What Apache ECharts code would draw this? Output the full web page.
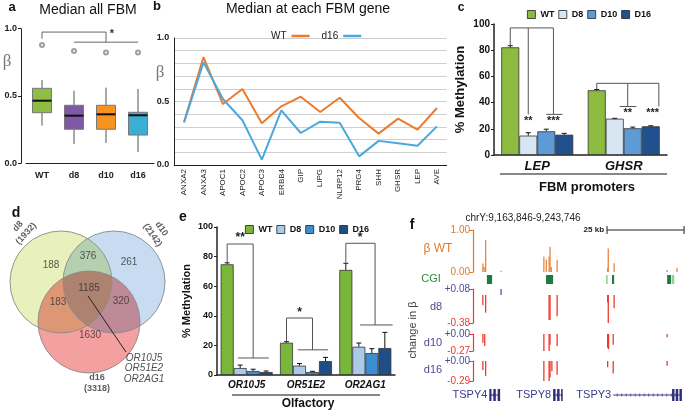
<!DOCTYPE html>
<html><head><meta charset="utf-8">
<script src="https://cdn.jsdelivr.net/npm/echarts@6/dist/echarts.min.js"></script>
<style>html,body{margin:0;padding:0;background:#fff;}#c{width:685px;height:411px;}</style>
</head><body><div id="c"></div>
<script>
// ================= DATA =================
// Panel a: median beta over all FBM genes (box plot)
const aGroups = ['WT','d8','d10','d16'];
const aMin = [0.28, 0.143, 0.151, 0.084];
const aQ1  = [0.376, 0.253, 0.253, 0.21];
const aMed = [0.465, 0.354, 0.364, 0.357];
const aQ3  = [0.557, 0.431, 0.431, 0.379];
const aMax = [0.619, 0.539, 0.562, 0.552];
const aOut = [0.879, 0.834, 0.824, 0.824];

// Panel b: median at each FBM gene
const bGenes = ['ANXA2','ANXA3','APOC1','APOC2','APOC3','ERBB4','GIP','LIPG','NLRP12','PRG4','SHH','GHSR','LEP','AVE'];
const bWT  = [0.336,0.85,0.48,0.598,0.328,0.462,0.538,0.417,0.53,0.37,0.247,0.365,0.278,0.449];
const bD16 = [0.336,0.808,0.52,0.352,0.042,0.43,0.252,0.341,0.333,0.068,0.19,0.171,0.152,0.304];

// Panel c: % methylation at FBM promoters
const cGenes = ['LEP','GHSR'];
const cWT  = [82.2, 49.4];
const cD8  = [14.8, 27.7];
const cD10 = [18.1, 20.4];
const cD16 = [15.5, 21.9];
const cWTerr  = [1.2, 0.6];
const cD8err  = [2.2, 0.3];
const cD10err = [1.6, 0.9];
const cD16err = [1.0, 0.4];

// Panel d: Venn counts
const vennSets = ['d8','d10','d16'];
const vennTotals = [1932, 2142, 3318];
const vennRegionCounts = [188, 376, 261, 1185, 183, 320, 1630];
const vennGenes = ['OR10J5','OR51E2','OR2AG1'];

// Panel e: % methylation, olfactory genes
const eGenes = ['OR10J5','OR51E2','OR2AG1'];
const eWT  = [74.8, 21.8, 71.0];
const eD8  = [4.7, 6.3, 19.1];
const eD10 = [2.7, 2.0, 14.8];
const eD16 = [2.0, 9.4, 18.2];
const eWTerr  = [1.0, 0.7, 4.5];
const eD8err  = [2.0, 1.5, 2.5];
const eD10err = [1.2, 0.5, 3.0];
const eD16err = [0.7, 2.5, 10.6];

// Panel f: genome track (positions in kb from window start)
const fWT  = [[3.2,0.2],[3.6,0.12],[4.1,0.76],[9.1,0.03],[23.0,0.37],[23.8,0.3],[24.7,0.37],[25.0,0.6],[25.4,0.12],[27.3,0.29],[43.7,0.1],[43.9,0.56],[45.8,0.21],[63.0,0.05],[66.2,0.1]];
const fCGI = [[4.5,6.2,0],[23.7,26.0,0],[43.2,43.7,1],[45.1,45.8,0],[63.0,64.3,0],[64.6,65.3,1]];
const fD8  = [[3.2,-0.14],[4.1,-0.24],[9.1,0.08],[24.7,-0.34],[25.0,-0.34],[27.3,-0.29],[43.7,-0.1],[43.9,-0.38],[45.8,-0.18]];
const fD10 = [[3.2,-0.14],[3.8,-0.19],[23.0,-0.27],[24.7,-0.27],[25.0,-0.17],[27.3,-0.19],[43.7,-0.22],[44.0,-0.24],[45.5,-0.17],[63.0,-0.05]];
const fD16 = [[3.2,-0.13],[4.1,-0.22],[23.0,-0.29],[24.7,-0.29],[25.0,-0.24],[25.6,-0.15],[27.3,-0.2],[43.7,-0.09],[45.5,-0.18],[63.0,-0.07]];
const fGeneNames = ['TSPY4','TSPY8','TSPY3'];
const fGeneStart = [5.3, 26.0, 45.5];
const fGeneEnd   = [8.8, 29.1, 67.8];
const fExons = [[5.3,6.0],[6.6,7.4],[8.0,8.8],[26.0,26.8],[27.3,28.1],[28.6,29.1],[64.6,65.4],[65.8,66.6],[67.0,67.8]];
const fScaleKb = [43.5, 68.5];

// ================= STYLE =================
const F = "'Liberation Sans', Arial, Helvetica, sans-serif";
const colA = ['#8fbc45','#7e5aa6','#f7931e','#3aaed3'];
const colBWT = '#ec7a2f', colBD16 = '#4aa9dc';
const colC = ['#8cbb40','#d8e6f4','#5d9bd6','#21508f'];
const colE = ['#79b63a','#a9cbe8','#3b8ed2','#1f4d85'];
const colOr = '#e07b2e', colRed = '#ee3a2c', colBlueLab = '#4a4a9a';
const vennRGB = [[232,240,187],[199,220,241],[244,160,160]];
// venn layout (grid coordinates)
const vennCenters = [[61,82],[114,82],[89,122]];
const vennRadius = 51;
const vennRegionPos = [[51,65],[88,56],[129,62],[89,88],[58,102],[121,101],[90,135]];

const chart = echarts.init(document.getElementById('c'), null, {renderer:'canvas'});

function bracketRenderer(brackets, stars, bw, fs) {
  return function(params, api) {
    const px = (cat, slot, val) => { const p = api.coord([cat, val]); return [p[0] + (slot-1.5)*bw, p[1]]; };
    const ch = [];
    brackets.forEach(b => ch.push({type:'polyline', shape:{points:b.map(q=>px(q[0],q[1],q[2]))}, style:{stroke:'#555', lineWidth:1, fill:null}}));
    stars.forEach(s => { const p = px(s[0], s[1], s[3]); ch.push({type:'text', x:p[0], y:p[1], style:{text:s[2], align:'center', verticalAlign:'middle', fontSize:fs, fontWeight:'bold', fill:'#222', fontFamily:F}}); });
    return {type:'group', children:ch};
  };
}
function errRenderer(bw, cap) {
  return function(params, api) {
    const cat = api.value(0), val = api.value(1), err = api.value(2), s = api.value(3);
    const p0 = api.coord([cat, val]), p1 = api.coord([cat, val+err]);
    const x = p0[0] + (s-1.5)*bw;
    return {type:'group', children:[
      {type:'line', shape:{x1:x,y1:p0[1],x2:x,y2:p1[1]}, style:{stroke:'#111', lineWidth:1}},
      {type:'line', shape:{x1:x-cap,y1:p1[1],x2:x+cap,y2:p1[1]}, style:{stroke:'#111', lineWidth:1}}
    ]};
  };
}
function errData(vals, errs) {
  const out = [];
  vals.forEach((arr, s) => arr.forEach((v, j) => out.push([j, v, errs[s][j], s])));
  return out;
}
function stick(color, w, posColor) {
  return function(params, api) {
    const x = api.value(0), v = api.value(1);
    const p0 = api.coord([x, 0]), p1 = api.coord([x, v]);
    return {type:'rect', shape:{x:p0[0]-w/2, y:Math.min(p0[1],p1[1]), width:w, height:Math.max(1,Math.abs(p1[1]-p0[1]))},
      style:{fill: (v > 0 && posColor) ? posColor : color}};
  };
}
// Venn: fill each region with the multiplied colour of its member sets, row by row
function vennRenderer(params, api) {
  const circ = vennCenters.map(c => { const p = api.coord(c); return [p[0], p[1]]; });
  const r = api.size([vennRadius, 0])[0];
  const top = Math.min(...circ.map(c=>c[1])) - r, bot = Math.max(...circ.map(c=>c[1])) + r;
  const ch = [];
  for (let y = Math.floor(top); y < bot; y += 1) {
    const yc = y + 0.5, brk = [];
    circ.forEach(c => { const dy = yc - c[1]; if (Math.abs(dy) < r) { const h = Math.sqrt(r*r - dy*dy); brk.push(c[0]-h, c[0]+h); } });
    if (!brk.length) continue;
    brk.sort((a,b)=>a-b);
    for (let k = 0; k < brk.length-1; k++) {
      const x0 = brk[k], x1 = brk[k+1]; if (x1 - x0 < 0.01) continue;
      const xm = (x0+x1)/2; let col = [255,255,255], any = false;
      circ.forEach((c,i) => { if ((xm-c[0])**2 + (yc-c[1])**2 < r*r) { any = true; col = col.map((v,j)=>v*vennRGB[i][j]/255); } });
      if (!any) continue;
      ch.push({type:'rect', shape:{x:x0, y:y, width:x1-x0, height:1.05}, style:{fill:'rgb('+col.map(Math.round).join(',')+')'}});
    }
  }
  circ.forEach(c => ch.push({type:'circle', shape:{cx:c[0], cy:c[1], r:r}, style:{fill:null, stroke:'#8a8a8a', lineWidth:0.9}}));
  return {type:'group', children:ch};
}

// brackets: [cat, slot, value]
const cBrackets = [
  [[0,0,83.5],[0,0,97],[0,2.4,97],[0,2.4,31]],
  [[0,1,97],[0,1,31]],
  [[0,2,31],[0,2.9,31]],
  [[1,0,50],[1,0,54.7],[1,3.45,54.7],[1,3.45,37]],
  [[1,1.72,54.7],[1,1.72,37]],
  [[1,1.28,37],[1,2.2,37]]
];
const cStars = [[0,1,'**',26],[0,2.4,'***',26],[1,1.72,'**',32],[1,3.1,'***',32]];
const eBrackets = [
  [[0,0,76],[0,0,88.5],[0,2,88.5],[0,2,11.5]],
  [[0,0.83,11.5],[0,3.2,11.5]],
  [[1,0,23],[1,0,38.5],[1,2,38.5],[1,2,17]],
  [[1,0.88,17],[1,3.2,17]],
  [[2,0,76],[2,0,89],[2,2.25,89],[2,2.25,33.8]],
  [[2,1.1,33.8],[2,3.6,33.8]]
];
const eStars = [[0,1.0,'**',93],[1,1.0,'*',42],[2,1.1,'*',93]];

const fX = (i) => ({gridIndex:i, type:'value', min:0, max:68.8, show:false});
const fYHidden = (i) => ({gridIndex:i, type:'value', min:0, max:1, show:false});
const signFmt = v => (v >= -1e-9 ? '+' : '-') + Math.abs(v).toFixed(2);
const signCol = v => (v >= -1e-9 ? colBlueLab : colRed);
const fTrackY = (i, mn, mx) => ({gridIndex:i, type:'value', min:mn, max:mx, interval:+(mx-mn).toFixed(2),
  axisLine:{show:true, lineStyle:{color:colRed, width:1.2}}, axisTick:{show:true, length:4, lineStyle:{color:colRed}},
  axisLabel:{formatter:signFmt, color:signCol, fontSize:10, margin:3, fontFamily:F}, splitLine:{show:false}});

const legendBar = (left, top, cols) => ({
  left, top, itemWidth:8, itemHeight:8, itemGap:4, icon:'rect', selectedMode:false,
  textStyle:{fontSize:9, fontWeight:'bold', color:'#111', fontFamily:F},
  data:['WT','D8','D10','D16'].map((n,i)=>({name:n, itemStyle:{color:cols[i], borderColor:'#222', borderWidth:0.8}}))
});

const barSeries = (names, vals, cols, xi, yi, bw) => names.map((n,i)=>({
  name:n, type:'bar', xAxisIndex:xi, yAxisIndex:yi, data:vals[i], barWidth:bw, barGap:'0%',
  itemStyle:{color:cols[i], borderColor:'#333', borderWidth:0.8}, silent:true
}));

const option = {
  animation:false,
  textStyle:{fontFamily:F},
  grid:[
    {left:26, top:28.7, width:128, height:134.6},
    {left:174.3, top:38, width:272.4, height:127},
    {left:494, top:24, width:173, height:131},
    {left:0, top:200, width:190, height:200},
    {left:217, top:227, width:178, height:148},
    {left:473, top:230, width:212, height:42},
    {left:473, top:275, width:212, height:9},
    {left:473, top:289, width:212, height:34},
    {left:473, top:334, width:212, height:17},
    {left:473, top:361, width:212, height:20},
    {left:473, top:389, width:212, height:12},
    {left:473, top:225, width:212, height:10}
  ],
  xAxis:[
    {gridIndex:0, type:'category', data:aGroups, axisLine:{lineStyle:{color:'#222'}}, axisTick:{show:false},
      axisLabel:{fontWeight:'bold', fontSize:9, color:'#222', margin:8}},
    {gridIndex:1, type:'category', data:bGenes, axisLine:{lineStyle:{color:'#222'}}, axisTick:{show:false},
      axisLabel:{rotate:90, fontSize:8, color:'#222', interval:0, margin:4}},
    {gridIndex:2, type:'category', data:cGenes, axisLine:{lineStyle:{color:'#222', width:1.5}}, axisTick:{show:false},
      axisLabel:{fontStyle:'italic', fontWeight:'bold', fontSize:13, color:'#111', margin:5}},
    {gridIndex:3, type:'value', min:0, max:190, show:false},
    {gridIndex:4, type:'category', data:eGenes, axisLine:{lineStyle:{color:'#222', width:1.5}}, axisTick:{show:false},
      axisLabel:{fontStyle:'italic', fontWeight:'bold', fontSize:10, color:'#111', margin:5}},
    fX(5), fX(6), fX(7), fX(8), fX(9), fX(10), fX(11)
  ],
  yAxis:[
    {gridIndex:0, type:'value', min:0, max:1, interval:0.5, offset:5, axisLine:{show:true, lineStyle:{color:'#222'}},
      axisTick:{show:true, length:3}, axisLabel:{formatter:v=>v.toFixed(1), fontWeight:'bold', fontSize:9, color:'#222', margin:4}, splitLine:{show:false}},
    {gridIndex:1, type:'value', min:0, max:1, interval:0.1, axisLine:{show:true, lineStyle:{color:'#222'}}, axisTick:{show:false},
      axisLabel:{formatter:v=>(Math.abs(v*2-Math.round(v*2))<1e-6 ? v.toFixed(1) : ''), fontWeight:'bold', fontSize:9, color:'#222', margin:5},
      splitLine:{show:true, lineStyle:{color:'#cfcfcf', width:1}}},
    {gridIndex:2, type:'value', min:0, max:100, interval:20, name:'% Methylation', nameLocation:'middle', nameGap:27,
      nameTextStyle:{fontWeight:'bold', fontSize:13, color:'#111'},
      axisLine:{show:true, lineStyle:{color:'#222', width:1.5}}, axisTick:{show:true, length:3},
      axisLabel:{fontWeight:'bold', fontSize:10, color:'#111', margin:4}, splitLine:{show:false}},
    {gridIndex:3, type:'value', min:0, max:200, inverse:true, show:false},
    {gridIndex:4, type:'value', min:0, max:100, interval:20, name:'% Methylation', nameLocation:'middle', nameGap:25,
      nameTextStyle:{fontWeight:'bold', fontSize:11, color:'#111'},
      axisLine:{show:true, lineStyle:{color:'#222', width:1.5}}, axisTick:{show:true, length:3},
      axisLabel:{fontWeight:'bold', fontSize:9, color:'#111', margin:4}, splitLine:{show:false}},
    {gridIndex:5, type:'value', min:0, max:1, interval:1, axisLine:{show:true, lineStyle:{color:colOr, width:1.2}},
      axisTick:{show:true, length:4, lineStyle:{color:colOr}}, axisLabel:{formatter:v=>v.toFixed(2), color:colOr, fontSize:10, margin:3}, splitLine:{show:false}},
    fYHidden(6),
    fTrackY(7, -0.38, 0.08),
    fTrackY(8, -0.27, 0),
    fTrackY(9, -0.29, 0),
    fYHidden(10), fYHidden(11)
  ],
  legend:[
    {left:266, top:26, align:'right', itemWidth:18, itemHeight:2.5, itemGap:12, icon:'rect', selectedMode:false,
      textStyle:{fontSize:10, color:'#222', fontFamily:F},
      data:[{name:'WT', itemStyle:{color:colBWT}}, {name:'d16', itemStyle:{color:colBD16}}]},
    legendBar(522, 5, colC),
    legendBar(240, 220, colE)
  ],
  series:[
    // ---- a ----
    {type:'custom', xAxisIndex:0, yAxisIndex:0, silent:true,
      data: aGroups.map((g,i)=>[i, aMin[i], aQ1[i], aMed[i], aQ3[i], aMax[i]]),
      encode:{x:0, y:[1,2,3,4,5]},
      renderItem:(params, api) => {
        const i = api.value(0);
        const c = (v) => api.coord([i, v]);
        const x = c(0)[0], w = 19;
        const yMin = c(api.value(1))[1], yQ1 = c(api.value(2))[1], yMed = c(api.value(3))[1], yQ3 = c(api.value(4))[1], yMax = c(api.value(5))[1];
        return {type:'group', children:[
          {type:'line', shape:{x1:x,y1:yQ1,x2:x,y2:yMin}, style:{stroke:'#555', lineWidth:1}},
          {type:'line', shape:{x1:x,y1:yQ3,x2:x,y2:yMax}, style:{stroke:'#555', lineWidth:1}},
          {type:'rect', shape:{x:x-w/2, y:yQ3, width:w, height:yQ1-yQ3}, style:{fill:colA[params.dataIndex], stroke:'#777', lineWidth:1}},
          {type:'line', shape:{x1:x-w/2,y1:yMed,x2:x+w/2,y2:yMed}, style:{stroke:'#111', lineWidth:2}}
        ]};
      }},
    {type:'scatter', xAxisIndex:0, yAxisIndex:0, silent:true, symbol:'emptyCircle', symbolSize:4,
      itemStyle:{color:'#888', borderColor:'#888', borderWidth:1}, data:aGroups.map((g,i)=>[g, aOut[i]])},
    {type:'line', xAxisIndex:0, yAxisIndex:0, silent:true, symbol:'none', lineStyle:{color:'#666', width:1},
      data:[['WT',0.925],['WT',0.975],['d10',0.975],['d10',0.9]]},
    {type:'line', xAxisIndex:0, yAxisIndex:0, silent:true, symbol:'none', lineStyle:{color:'#666', width:1},
      data:[['d8',0.9],['d16',0.9]],
      markPoint:{silent:true, symbolSize:0, data:[{coord:['d10',0.975], label:{show:true, formatter:'*', offset:[6,2], fontSize:11, fontWeight:'bold', color:'#333'}}]}},
    // ---- b ----
    {name:'WT', type:'line', xAxisIndex:1, yAxisIndex:1, data:bWT, symbol:'none', silent:true, lineStyle:{color:colBWT, width:2}, itemStyle:{color:colBWT}},
    {name:'d16', type:'line', xAxisIndex:1, yAxisIndex:1, data:bD16, symbol:'none', silent:true, lineStyle:{color:colBD16, width:2}, itemStyle:{color:colBD16}},
    // ---- c ----
    ...barSeries(['WT','D8','D10','D16'], [cWT,cD8,cD10,cD16], colC, 2, 2, 18),
    {type:'custom', xAxisIndex:2, yAxisIndex:2, silent:true, z:5, encode:{x:0,y:1},
      data:errData([cWT,cD8,cD10,cD16],[cWTerr,cD8err,cD10err,cD16err]), renderItem:errRenderer(18, 2.5)},
    {type:'custom', xAxisIndex:2, yAxisIndex:2, silent:true, z:6, encode:{x:0,y:1}, data:[[0,0]],
      renderItem:bracketRenderer(cBrackets, cStars, 18, 11)},
    // ---- d (Venn) ----
    {type:'custom', xAxisIndex:3, yAxisIndex:3, silent:true, encode:{x:0,y:1},
      data:[vennCenters[0]], renderItem:vennRenderer},
    {type:'scatter', xAxisIndex:3, yAxisIndex:3, silent:true, symbolSize:0, z:4,
      label:{show:true, position:'inside', formatter:p=>p.name, fontSize:10, color:'#333'},
      data: vennRegionCounts.map((n,i)=>({name:String(n), value:vennRegionPos[i]}))},
    {type:'line', xAxisIndex:3, yAxisIndex:3, silent:true, symbol:'none', z:5, lineStyle:{color:'#222', width:1},
      data:[[88,96],[126,152]]},
    {type:'scatter', xAxisIndex:3, yAxisIndex:3, silent:true, symbolSize:0, z:4,
      label:{show:true, position:'inside', formatter:p=>p.name, fontSize:10, fontStyle:'italic', color:'#222'},
      data: vennGenes.map((g,i)=>({name:g, value:[144, 158 + i*10.5]}))},
    {type:'scatter', xAxisIndex:3, yAxisIndex:3, silent:true, symbolSize:0, z:4,
      data:[
        {name:vennSets[0]+'\n('+vennTotals[0]+')', value:[22,30], label:{rotate:48}},
        {name:vennSets[1]+'\n('+vennTotals[1]+')', value:[157,32], label:{rotate:-55}},
        {name:vennSets[2]+'\n('+vennTotals[2]+')', value:[97,183], label:{rotate:0}}
      ],
      label:{show:true, position:'inside', formatter:p=>p.name, fontSize:9, fontWeight:'bold', color:'#333', lineHeight:11}},
    // ---- e ----
    ...barSeries(['WT','D8','D10','D16'], [eWT,eD8,eD10,eD16], colE, 4, 4, 13),
    {type:'custom', xAxisIndex:4, yAxisIndex:4, silent:true, z:5, encode:{x:0,y:1},
      data:errData([eWT,eD8,eD10,eD16],[eWTerr,eD8err,eD10err,eD16err]), renderItem:errRenderer(13, 2.5)},
    {type:'custom', xAxisIndex:4, yAxisIndex:4, silent:true, z:6, encode:{x:0,y:1}, data:[[0,0]],
      renderItem:bracketRenderer(eBrackets, eStars, 13, 12)},
    // ---- f ----
    {type:'custom', xAxisIndex:5, yAxisIndex:5, silent:true, encode:{x:0,y:1}, data:fWT, renderItem:stick('#e8873f', 1.3)},
    {type:'custom', xAxisIndex:6, yAxisIndex:6, silent:true, encode:{x:[0,1]}, data:fCGI,
      renderItem:(params, api) => {
        const p0 = api.coord([api.value(0), 1]), p1 = api.coord([api.value(1), 0]);
        return {type:'rect', shape:{x:p0[0], y:p0[1], width:Math.max(1.5,p1[0]-p0[0]), height:p1[1]-p0[1]},
          style:{fill: api.value(2) ? '#8fd08f' : '#1f7a3f'}};
      }},
    {type:'custom', xAxisIndex:7, yAxisIndex:7, silent:true, encode:{x:0,y:1}, data:fD8, renderItem:stick(colRed, 1.3, '#4a5aa8')},
    {type:'custom', xAxisIndex:8, yAxisIndex:8, silent:true, encode:{x:0,y:1}, data:fD10, renderItem:stick(colRed, 1.3)},
    {type:'custom', xAxisIndex:9, yAxisIndex:9, silent:true, encode:{x:0,y:1}, data:fD16, renderItem:stick(colRed, 1.3)},
    {type:'custom', xAxisIndex:10, yAxisIndex:10, silent:true, encode:{x:[0,1]},
      data: fGeneNames.map((g,i)=>[fGeneStart[i], fGeneEnd[i], i]),
      renderItem:(params, api) => {
        const a = api.coord([api.value(0), 0.5]), b = api.coord([api.value(1), 0.5]);
        const ch = [{type:'line', shape:{x1:a[0],y1:a[1],x2:b[0],y2:b[1]}, style:{stroke:'#3b3b8f', lineWidth:1}}];
        for (let x = a[0]+4; x < b[0]-4; x += 4.5) ch.push({type:'line', shape:{x1:x,y1:a[1]-1.5,x2:x,y2:a[1]+1.5}, style:{stroke:'#3b3b8f', lineWidth:0.8}});
        ch.push({type:'text', x:a[0]-2, y:a[1], style:{text:fGeneNames[api.value(2)], align:'right', verticalAlign:'middle', fontSize:11, fill:'#3b3b8f', fontFamily:F}});
        return {type:'group', children:ch};
      }},
    {type:'custom', xAxisIndex:10, yAxisIndex:10, silent:true, encode:{x:[0,1]}, data:fExons,
      renderItem:(params, api) => {
        const a = api.coord([api.value(0), 1]), b = api.coord([api.value(1), 0]);
        return {type:'rect', shape:{x:a[0], y:a[1], width:Math.max(1.5,b[0]-a[0]), height:b[1]-a[1]}, style:{fill:'#2e2e78'}};
      }},
    {type:'custom', xAxisIndex:11, yAxisIndex:11, silent:true, encode:{x:[0,1]}, data:[fScaleKb],
      renderItem:(params, api) => {
        const a = api.coord([api.value(0), 0.5]), b = api.coord([api.value(1), 0.5]);
        return {type:'group', children:[
          {type:'line', shape:{x1:a[0],y1:a[1],x2:b[0],y2:b[1]}, style:{stroke:'#222', lineWidth:1}},
          {type:'line', shape:{x1:a[0],y1:a[1]-4,x2:a[0],y2:a[1]+4}, style:{stroke:'#222', lineWidth:1}},
          {type:'line', shape:{x1:b[0],y1:b[1]-4,x2:b[0],y2:b[1]+4}, style:{stroke:'#222', lineWidth:1}},
          {type:'text', x:a[0]-3, y:a[1], style:{text:'25 kb', align:'right', verticalAlign:'middle', fontSize:8, fontWeight:'bold', fill:'#222', fontFamily:F}}
        ]};
      }}
  ],
  graphic:{elements:[
    {type:'text', x:12, y:7, style:{text:'a', fontSize:13, fontWeight:'bold', fill:'#111', fontFamily:F, align:'center', verticalAlign:'middle'}},
    {type:'text', x:157, y:6, style:{text:'b', fontSize:13, fontWeight:'bold', fill:'#111', fontFamily:F, align:'center', verticalAlign:'middle'}},
    {type:'text', x:461, y:8, style:{text:'c', fontSize:12, fontWeight:'bold', fill:'#111', fontFamily:F, align:'center', verticalAlign:'middle'}},
    {type:'text', x:16, y:213, style:{text:'d', fontSize:14, fontWeight:'bold', fill:'#111', fontFamily:F, align:'center', verticalAlign:'middle'}},
    {type:'text', x:183, y:217, style:{text:'e', fontSize:14, fontWeight:'bold', fill:'#111', fontFamily:F, align:'center', verticalAlign:'middle'}},
    {type:'text', x:412, y:225, style:{text:'f', fontSize:14, fontWeight:'bold', fill:'#111', fontFamily:F, align:'center', verticalAlign:'middle'}},
    {type:'text', x:88, y:10, style:{text:'Median all FBM', fontSize:14, fill:'#111', fontFamily:F, align:'center', verticalAlign:'middle'}},
    {type:'text', x:308, y:9, style:{text:'Median at each FBM gene', fontSize:14, fill:'#111', fontFamily:F, align:'center', verticalAlign:'middle'}},
    {type:'text', x:7, y:62, style:{text:'β', fontSize:17, fill:'#777', fontFamily:"'Liberation Serif', serif", align:'center', verticalAlign:'middle'}},
    {type:'text', x:160, y:73, style:{text:'β', fontSize:17, fill:'#777', fontFamily:"'Liberation Serif', serif", align:'center', verticalAlign:'middle'}},
    {type:'line', shape:{x1:500, y1:174, x2:667, y2:174}, style:{stroke:'#111', lineWidth:1.2}},
    {type:'text', x:587, y:187, style:{text:'FBM promoters', fontSize:13, fontWeight:'bold', fill:'#111', fontFamily:F, align:'center', verticalAlign:'middle'}},
    {type:'line', shape:{x1:232, y1:395, x2:380, y2:395}, style:{stroke:'#111', lineWidth:1.2}},
    {type:'text', x:308, y:404, style:{text:'Olfactory', fontSize:12, fontWeight:'bold', fill:'#111', fontFamily:F, align:'center', verticalAlign:'middle'}},
    {type:'text', x:523, y:218, style:{text:'chrY:9,163,846-9,243,746', fontSize:10, fill:'#222', fontFamily:F, align:'center', verticalAlign:'middle'}},
    {type:'text', x:438, y:249, style:{text:'β WT', fontSize:12, fill:colOr, fontFamily:F, align:'center', verticalAlign:'middle'}},
    {type:'text', x:431, y:279, style:{text:'CGI', fontSize:11, fill:'#2a8a3a', fontFamily:F, align:'center', verticalAlign:'middle'}},
    {type:'text', x:436, y:307, style:{text:'d8', fontSize:11, fill:colBlueLab, fontFamily:F, align:'center', verticalAlign:'middle'}},
    {type:'text', x:433, y:343, style:{text:'d10', fontSize:11, fill:colBlueLab, fontFamily:F, align:'center', verticalAlign:'middle'}},
    {type:'text', x:433, y:370, style:{text:'d16', fontSize:11, fill:colBlueLab, fontFamily:F, align:'center', verticalAlign:'middle'}},
    {type:'text', x:413, y:330, rotation:Math.PI/2, style:{text:'change in β', fontSize:11, fill:'#444', fontFamily:F, align:'center', verticalAlign:'middle'}}
  ]}
};
chart.setOption(option);
</script></body></html>
